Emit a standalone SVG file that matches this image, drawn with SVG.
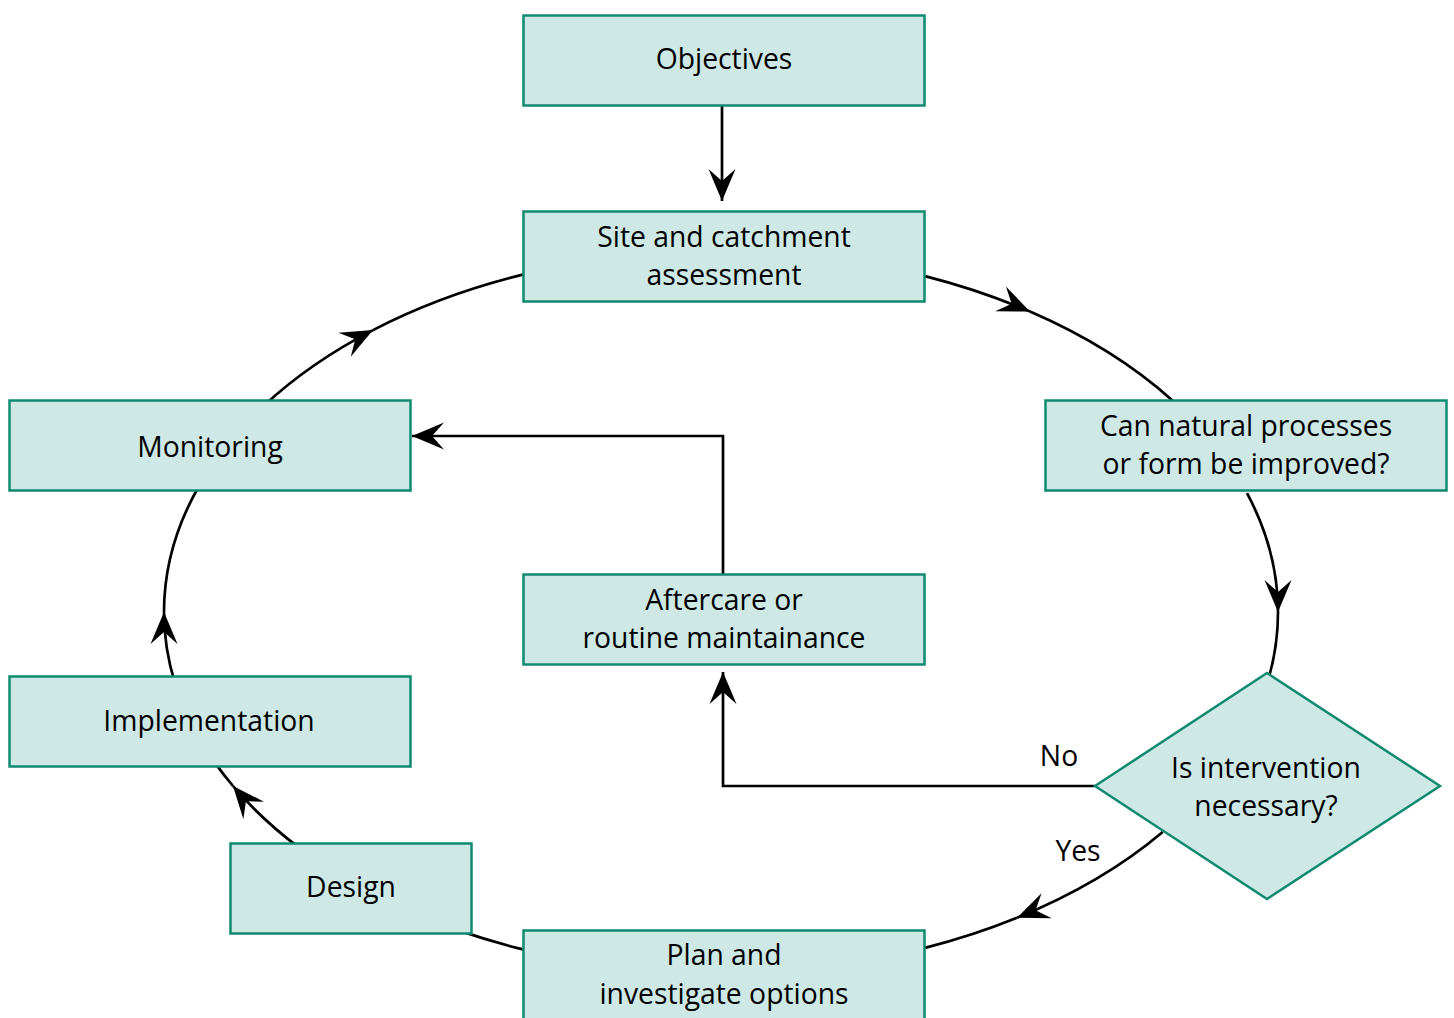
<svg xmlns="http://www.w3.org/2000/svg" width="1454" height="1018" viewBox="0 0 1454 1018">
<style>
.box{fill:#cde8e5;stroke:#0f8a70;stroke-width:2.5}
.c{fill:none;stroke:#000;stroke-width:2.7}
text{font-family:"Open Sans","Liberation Sans",sans-serif;font-size:28.3px;fill:#000;text-anchor:middle}
</style>
<defs>
<marker id="ah" viewBox="-33 -14 35 28" refX="0" refY="0" markerWidth="35" markerHeight="28" markerUnits="userSpaceOnUse" orient="auto">
<path d="M0,0 L-32,-13.5 L-20,0 L-32,13.5 Z" fill="#000"/>
</marker>
</defs>
<rect width="1454" height="1018" fill="#fff"/>
<g id="connectors">
<path class="c" d="M722,105 L722,201" marker-end="url(#ah)"/>
<path class="c" d="M925,276.1 A557,361 0 0 1 1030,311.6" marker-end="url(#ah)"/>
<path class="c" d="M1030,311.6 A557,361 0 0 1 1173,401"/>
<path class="c" d="M1247,493.2 A557,361 0 0 1 1278,612" marker-end="url(#ah)"/>
<path class="c" d="M1278,612 A557,361 0 0 1 1266.9,684.2"/>
<path class="c" d="M1162.7,832 A557,361 0 0 1 1017,917.8" marker-end="url(#ah)"/>
<path class="c" d="M1017,917.8 A557,361 0 0 1 925,947.9"/>
<path class="c" d="M523,949.4 A557,361 0 0 1 460,930.9"/>
<path class="c" d="M300,848.4 A557,361 0 0 1 233,786" marker-end="url(#ah)"/>
<path class="c" d="M233,786 A557,361 0 0 1 215,762.9"/>
<path class="c" d="M175,683.3 A557,361 0 0 1 164,612" marker-end="url(#ah)"/>
<path class="c" d="M164,612 A557,361 0 0 1 199.6,485"/>
<path class="c" d="M264.6,405 A557,361 0 0 1 373,330.1" marker-end="url(#ah)"/>
<path class="c" d="M373,330.1 A557,361 0 0 1 530,272.9"/>
<path class="c" d="M1095,786 H723 V672" marker-end="url(#ah)"/>
<path class="c" d="M723,574 V436 H412" marker-end="url(#ah)"/>
<text x="1059" y="766">No</text>
<text x="1078" y="861">Yes</text>
</g>
<g id="objectives"><rect class="box" x="523.5" y="15.5" width="401" height="90"/><text x="724" y="69">Objectives</text></g>
<g id="site"><rect class="box" x="523.5" y="211.5" width="401" height="90"/><text x="724" y="247">Site and catchment</text><text x="724" y="285">assessment</text></g>
<g id="natural"><rect class="box" x="1045.5" y="400.5" width="401" height="90"/><text x="1246" y="436">Can natural processes</text><text x="1246" y="474">or form be improved?</text></g>
<g id="monitoring"><rect class="box" x="9.5" y="400.5" width="401" height="90"/><text x="210" y="457">Monitoring</text></g>
<g id="aftercare"><rect class="box" x="523.5" y="574.5" width="401" height="90"/><text x="724" y="610">Aftercare or</text><text x="724" y="648">routine maintainance</text></g>
<g id="implementation"><rect class="box" x="9.5" y="676.5" width="401" height="90"/><text x="209" y="731">Implementation</text></g>
<g id="decision"><polygon class="box" points="1095,786 1267,673 1440,786 1267,899"/><text x="1266" y="778">Is intervention</text><text x="1266" y="816">necessary?</text></g>
<g id="design"><rect class="box" x="230.5" y="843.5" width="241" height="90"/><text x="351" y="897">Design</text></g>
<g id="plan"><rect class="box" x="523.5" y="930.5" width="401" height="100"/><text x="724" y="965">Plan and</text><text x="724" y="1004">investigate options</text></g>
</svg>
